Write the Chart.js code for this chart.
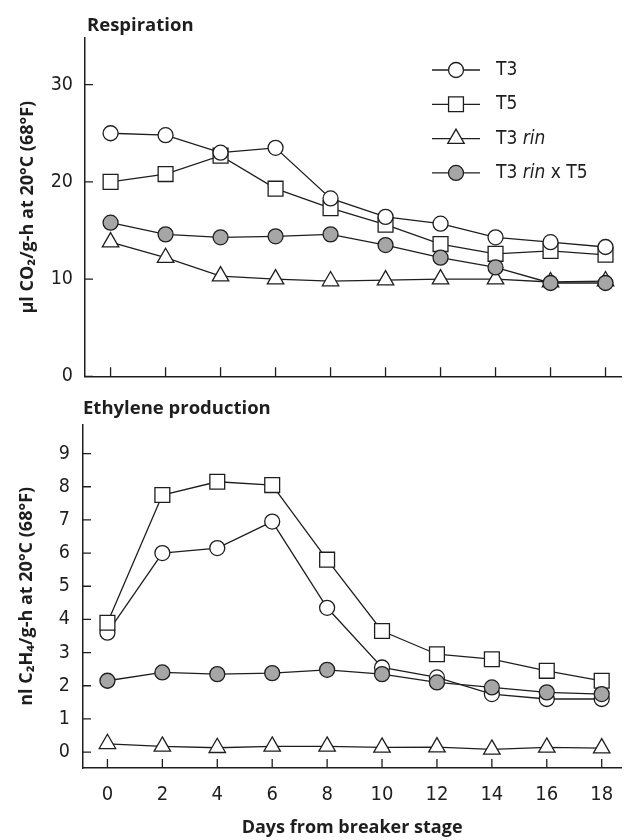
<!DOCTYPE html>
<html>
<head>
<meta charset="utf-8">
<script src="https://cdn.jsdelivr.net/npm/chart.js@4.4.1/dist/chart.umd.min.js"></script>
<style>
  html, body { margin: 0; padding: 0; background: #fff; }
  #page { position: relative; width: 633px; height: 840px; overflow: hidden; }
  canvas { position: absolute; left: 0; }
  #respChart { top: 0; }
  #ethChart { top: 400px; }
  .panel-title { position: absolute; font: bold 18.5px "Open Sans", sans-serif; color: #1e1e1e; line-height: 22px; white-space: nowrap; }
</style>
</head>
<body>
<div id="page">
  <canvas id="respChart" width="633" height="400"></canvas>
  <canvas id="ethChart" width="633" height="440"></canvas>
  <div class="panel-title" style="left:87px; top:13px">Respiration</div>
  <div class="panel-title" style="left:83px; top:396px">Ethylene production</div>
</div>
<script>
// data
const days = [0, 2, 4, 6, 8, 10, 12, 14, 16, 18];
const seriesNames = ['T3', 'T5', 'T3 rin', 'T3 rin x T5'];

// respiration, µl CO2 / g-h
const respT3    = [25.0, 24.8, 23.0, 23.5, 18.3, 16.4, 15.7, 14.3, 13.8, 13.3];
const respT5    = [20.0, 20.8, 22.7, 19.3, 17.3, 15.6, 13.6, 12.6, 12.9, 12.5];
const respT3rin = [13.8, 12.2, 10.3, 10.0, 9.8, 9.9, 10.0, 10.0, 9.7, 9.8];
const respCross = [15.8, 14.6, 14.3, 14.4, 14.6, 13.5, 12.2, 11.2, 9.6, 9.6];

// ethylene, nl C2H4 / g-h
const ethT3    = [3.6, 6.0, 6.15, 6.95, 4.35, 2.55, 2.25, 1.75, 1.6, 1.6];
const ethT5    = [3.9, 7.75, 8.15, 8.05, 5.8, 3.65, 2.95, 2.8, 2.45, 2.15];
const ethT3rin = [0.25, 0.17, 0.13, 0.17, 0.17, 0.14, 0.15, 0.08, 0.14, 0.12];
const ethCross = [2.15, 2.4, 2.35, 2.38, 2.48, 2.35, 2.1, 1.95, 1.8, 1.75];

const dayTicks  = [0, 2, 4, 6, 8, 10, 12, 14, 16, 18];
const respTicks = [0, 10, 20, 30];
const ethTicks  = [0, 1, 2, 3, 4, 5, 6, 7, 8, 9];

const ink = '#1e1e1e';
const tickFont = '"Liberation Sans Narrow", "DejaVu Sans Condensed", sans-serif';
const titleFont = '"Open Sans", "DejaVu Sans", sans-serif';

Chart.defaults.font.family = tickFont;
Chart.defaults.color = ink;

const markerStyles = [
  { pointStyle: 'circle',   radius: 7.5,  fill: '#ffffff' },
  { pointStyle: 'rect',     radius: 10.5, fill: '#ffffff' },
  { pointStyle: 'triangle', radius: 9.5,  fill: '#ffffff' },
  { pointStyle: 'circle',   radius: 7.5,  fill: '#a6a6a6' }
];

function makeDataset(i, values, order) {
  const m = markerStyles[i];
  return {
    label: seriesNames[i],
    data: days.map((d, k) => ({ x: d, y: values[k] })),
    borderColor: ink,
    borderWidth: 1.3,
    pointStyle: m.pointStyle,
    pointRadius: m.radius,
    pointHoverRadius: m.radius,
    pointBackgroundColor: m.fill,
    pointBorderColor: ink,
    pointBorderWidth: 1.3,
    tension: 0,
    fill: false,
    order: order,
    clip: false
  };
}

// small tick marks pointing into the plot
const inwardTicks = {
  id: 'inwardTicks',
  beforeDatasetsDraw(chart) {
    const { ctx, chartArea, scales } = chart;
    ctx.save();
    ctx.strokeStyle = ink;
    ctx.lineWidth = 1.3;
    ctx.beginPath();
    scales.x.ticks.forEach(t => {
      const px = scales.x.getPixelForValue(t.value);
      ctx.moveTo(px, chartArea.bottom);
      ctx.lineTo(px, chartArea.bottom - 9);
    });
    scales.y.ticks.forEach(t => {
      const py = scales.y.getPixelForValue(t.value);
      ctx.moveTo(chartArea.left, py);
      ctx.lineTo(chartArea.left + 8, py);
    });
    ctx.stroke();
    ctx.restore();
  }
};

// legend: line - marker - line, then label (with "rin" in italics)
const lineLegend = {
  id: 'lineLegend',
  afterDraw(chart, args, opts) {
    if (!opts.show) return;
    const ctx = chart.ctx;
    ctx.save();
    chart.data.datasets.forEach((ds, i) => {
      const y = opts.top + i * opts.rowGap;
      ctx.strokeStyle = ink;
      ctx.lineWidth = 1.3;
      ctx.beginPath();
      ctx.moveTo(opts.left, y);
      ctx.lineTo(opts.left + opts.lineLen, y);
      ctx.stroke();
      ctx.fillStyle = ds.pointBackgroundColor;
      ctx.strokeStyle = ink;
      Chart.helpers.drawPoint(ctx, {
        pointStyle: ds.pointStyle,
        radius: ds.pointRadius,
        rotation: 0,
        borderWidth: 1.3
      }, opts.left + opts.lineLen / 2, y);

      let x = opts.left + opts.lineLen + opts.textGap;
      ctx.fillStyle = ink;
      ctx.textBaseline = 'middle';
      ds.label.split(/(rin)/).forEach(part => {
        if (!part) return;
        ctx.font = (part === 'rin' ? 'italic ' : '') + '19px ' + tickFont;
        ctx.fillText(part, x, y);
        x += ctx.measureText(part).width;
      });
    });
    ctx.restore();
  }
};

function setTicks(list) {
  return scale => { scale.ticks = list.map(v => ({ value: v })); };
}

function axisBase() {
  return {
    type: 'linear',
    grid: { drawOnChartArea: false, drawTicks: false },
    border: { display: true, color: ink, width: 1.5 }
  };
}

function baseOptions() {
  return {
    responsive: false,
    animation: false,
    events: [],
    plugins: {
      legend: { display: false },
      tooltip: { enabled: false },
      title: { display: false }
    }
  };
}

// top panel: respiration
const respOptions = baseOptions();
respOptions.layout = { padding: { top: 38, left: 0, right: 0, bottom: 0 } };
respOptions.plugins.lineLegend = { show: true, left: 432, top: 70, rowGap: 34.3, lineLen: 48, textGap: 16 };
respOptions.scales = {
  x: Object.assign(axisBase(), {
    min: -0.93, max: 18.57,
    afterBuildTicks: setTicks(dayTicks),
    ticks: { display: false },
    afterFit: s => { s.height = 18; }
  }),
  y: Object.assign(axisBase(), {
    min: 0, max: 34.8,
    afterBuildTicks: setTicks(respTicks),
    ticks: { font: { size: 19.5 }, padding: 12, color: ink },
    title: {
      display: true,
      text: 'µl CO₂/g-h at 20°C (68°F)',
      font: { family: titleFont, size: 18, weight: 'bold' },
      color: ink,
      padding: { top: 17, bottom: 0 }
    },
    afterFit: s => { s.width = 85; }
  })
};

new Chart(document.getElementById('respChart'), {
  type: 'line',
  data: {
    datasets: [
      makeDataset(0, respT3, 1),
      makeDataset(1, respT5, 2),
      makeDataset(2, respT3rin, 3),
      makeDataset(3, respCross, 0)
    ]
  },
  options: respOptions,
  plugins: [inwardTicks, lineLegend]
});

// bottom panel: ethylene production
const ethOptions = baseOptions();
ethOptions.layout = { padding: { top: 24, left: 0, right: 0, bottom: 0 } };
ethOptions.plugins.lineLegend = { show: false };
ethOptions.scales = {
  x: Object.assign(axisBase(), {
    min: -0.89, max: 18.71,
    afterBuildTicks: setTicks(dayTicks),
    ticks: { font: { size: 20 }, padding: 15, color: ink, maxRotation: 0 },
    title: {
      display: true,
      text: 'Days from breaker stage',
      font: { family: titleFont, size: 18, weight: 'bold' },
      color: ink,
      padding: { top: 0, bottom: 1 }
    },
    afterFit: s => { s.height = 72; }
  }),
  y: Object.assign(axisBase(), {
    min: -0.48, max: 9.87,
    afterBuildTicks: setTicks(ethTicks),
    ticks: { font: { size: 19.5 }, padding: 13, color: ink },
    title: {
      display: true,
      text: 'nl C₂H₄/g-h at 20°C (68°F)',
      font: { family: titleFont, size: 18, weight: 'bold' },
      color: ink,
      padding: { top: 16, bottom: 0 }
    },
    afterFit: s => { s.width = 83; }
  })
};

new Chart(document.getElementById('ethChart'), {
  type: 'line',
  data: {
    datasets: [
      makeDataset(0, ethT3, 2),
      makeDataset(1, ethT5, 1),
      makeDataset(2, ethT3rin, 3),
      makeDataset(3, ethCross, 0)
    ]
  },
  options: ethOptions,
  plugins: [inwardTicks, lineLegend]
});
</script>
</body>
</html>
